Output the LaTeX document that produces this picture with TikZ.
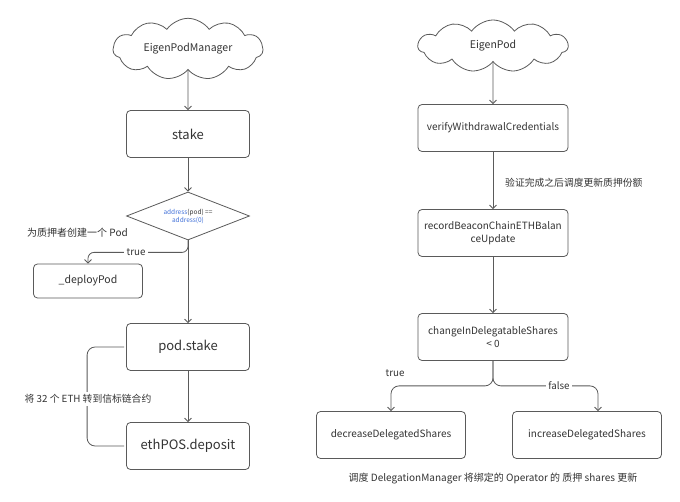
\documentclass[tikz,border=0pt]{standalone}
\usepackage{fontspec}
\setmainfont{Noto Sans CJK SC}
\usetikzlibrary{shapes.geometric,shapes.symbols,arrows.meta,calc}
\definecolor{txt}{HTML}{333333}
\definecolor{ln}{HTML}{5A5A5A}
\definecolor{bl}{HTML}{3F6FD8}
\begin{document}
\begin{tikzpicture}[x=1pt,y=-1pt,
  every node/.style={text=txt},
  box/.style={draw=ln,line width=0.8pt,rounded corners=4pt,minimum width=123pt,minimum height=47pt,inner sep=2pt,align=center,font=\fontsize{10}{13}\selectfont},
  bigbox/.style={box,font=\fontsize{13}{16}\selectfont},
  cloudbox/.style={draw=ln,line width=0.8pt,cloud,cloud puffs=11,cloud puff arc=110,aspect=2.8,minimum width=150pt,minimum height=52pt,inner sep=0pt,font=\fontsize{10.5}{13}\selectfont},
  arr/.style={draw=ln,line width=0.8pt,-{Straight Barb[length=3.5pt,width=7pt]}},
  lnk/.style={draw=ln,line width=0.8pt},
  lbl/.style={font=\fontsize{9.8}{12}\selectfont,fill=white,inner sep=2.5pt}]
\useasboundingbox[fill=white] (0,0) rectangle (680,502);
% left column
\node[cloudbox] (epm) at (188,49) {EigenPodManager};
\node[bigbox] (stake) at (188,134) {stake};
\node[draw=ln,line width=0.8pt,diamond,aspect=2.56,minimum width=123pt,minimum height=48pt,inner sep=0pt,align=center,font=\fontsize{6.5}{8}\selectfont] (dia) at (188,216) {\textcolor{bl}{address}(pod) ==\\\textcolor{bl}{address(0)}};
\node[box,minimum width=109pt,minimum height=34pt,font=\fontsize{10.5}{13}\selectfont] (deploy) at (88,281) {\_deployPod};
\node[bigbox] (pods) at (188,347) {pod.stake};
\node[bigbox] (eth) at (188,446) {ethPOS.deposit};
\node[font=\fontsize{10}{12}\selectfont,anchor=west,inner sep=0pt] (note1) at (27,233) {为质押者创建一个 Pod};
\draw[arr] (epm) -- (stake);
\draw[arr] (stake) -- (dia);
\draw[arr] (dia.south) -- (pods.north);
\draw[arr,rounded corners=6pt] (dia.south) -- ++(0,12) -| (deploy.north);
\node[lbl] (tlab) at (136,252) {true};
\draw[arr] (pods) -- (eth);
\draw[lnk,rounded corners=8pt] ($(pods.west)+(-2,0)$) -- ++(-37,0) |- ($(eth.west)+(-2,0)$);
\node[lbl] (note2) at (88,399) {将 32 个 ETH 转到信标链合约};
% right column
\node[cloudbox] (ep) at (493,46) {EigenPod};
\node[box,minimum width=150pt] (vwc) at (493,128) {verifyWithdrawalCredentials};
\node[box,minimum width=150pt] (rec) at (493,233) {recordBeaconChainETHBalan\\ceUpdate};
\node[box,minimum width=150pt] (chg) at (493,337) {changeInDelegatableShares\\< 0};
\node[box,minimum width=149pt] (dec) at (391,435) {decreaseDelegatedShares};
\node[box,minimum width=149pt] (inc) at (587,435) {increaseDelegatedShares};
\draw[arr] (ep) -- (vwc);
\draw[arr] (vwc) -- (rec);
\node[font=\fontsize{9.8}{12}\selectfont,anchor=west,inner sep=0pt] (note3) at (505,183) {验证完成之后调度更新质押份额};
\draw[arr] (rec) -- (chg);
\coordinate (incin) at ($(inc.north)+(11,0)$);
\draw[arr,rounded corners=8pt] (chg.south) -- ++(0,25) -| (dec.north);
\draw[arr,rounded corners=8pt] (chg.south) -- ++(0,25) -| (incin);
\node[lbl] (tr2) at (395,373) {true};
\node[lbl] (fl2) at (559,386) {false};
\node[font=\fontsize{10}{12}\selectfont,inner sep=0pt] (note4) at (493,479) {调度 DelegationManager 将绑定的 Operator 的 质押 shares 更新};
\end{tikzpicture}
\end{document}
